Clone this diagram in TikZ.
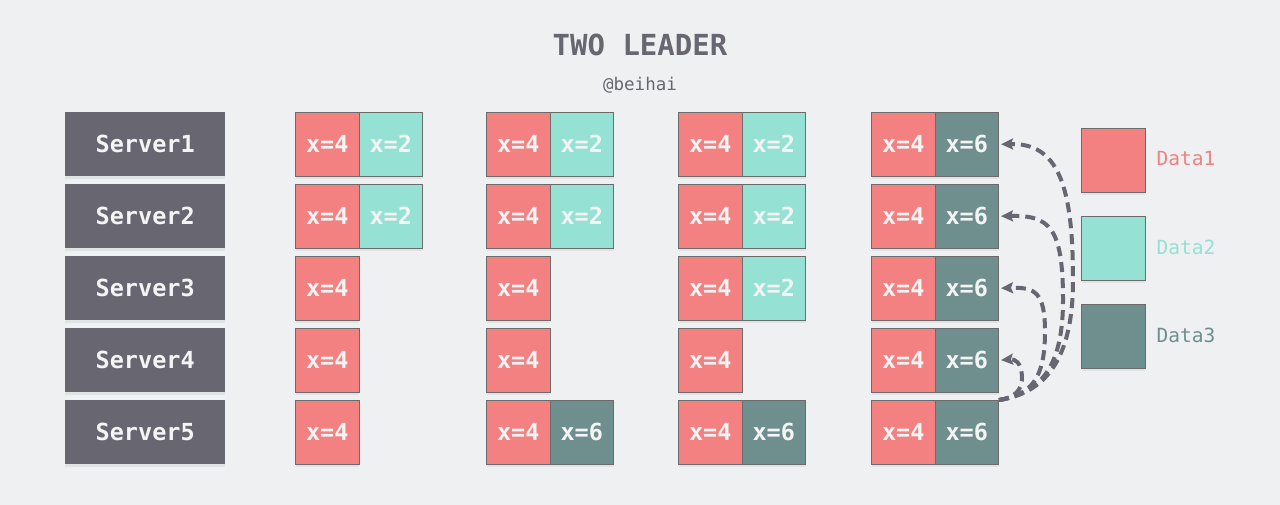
\documentclass[tikz,border=0pt]{standalone}
\usepackage{fontspec}
\setmonofont{DejaVu Sans Mono}
\usetikzlibrary{arrows.meta,shadows}
\definecolor{bg}{HTML}{EFF0F2}
\definecolor{srv}{HTML}{686671}
\definecolor{dA}{HTML}{F38181}
\definecolor{dB}{HTML}{95E1D3}
\definecolor{dC}{HTML}{6F8F8E}
\definecolor{edgec}{HTML}{6B6B6B}
\definecolor{txt}{HTML}{F4F4F4}
\pagecolor{bg}
\tikzset{
  shd/.style={drop shadow={opacity=0.12,shadow xshift=0pt,shadow yshift=-3pt}},
  server/.style={shd,fill=srv,draw=none,minimum width=160pt,minimum height=64pt,inner sep=0pt,anchor=north west,text=txt,font=\ttfamily\bfseries\fontsize{23.5}{24}\selectfont},
  cell/.style={shd,draw=edgec,line width=1pt,minimum width=63.5pt,minimum height=63.5pt,inner sep=0pt,anchor=north west,text=txt,font=\ttfamily\bfseries\fontsize{23.5}{24}\selectfont},
  ca/.style={cell,fill=dA},
  cb/.style={cell,fill=dB},
  cc/.style={cell,fill=dC},
  legbox/.style={shd,draw=edgec,line width=1pt,minimum width=63.5pt,minimum height=63.5pt,inner sep=0pt,anchor=north west},
  legtxt/.style={anchor=west,font=\ttfamily\fontsize{19.5}{20}\selectfont},
  link/.style={draw=srv,line width=4pt,dash pattern=on 10pt off 6pt,-{Stealth[length=12pt,width=11pt,inset=2pt]},shorten >=2pt}
}
\begin{document}
\begin{tikzpicture}[x=1pt,y=-1pt]
\useasboundingbox (0,0) rectangle (1280,504);
\fill[bg] (-10,-10) rectangle (1290,514);
\node[text=srv,font=\ttfamily\bfseries\fontsize{29}{30}\selectfont] (title) at (640,45) {TWO LEADER};
\node[text=srv,font=\ttfamily\fontsize{17.5}{18}\selectfont] (author) at (640,85) {@beihai};
% servers
\foreach \i in {1,...,5}{
  \node[server] (s\i) at (65,{112+72*(\i-1)}) {Server\i};
}
% column 1
\foreach \i in {1,...,5}{
  \node[ca] (a\i1) at (295,{112+72*(\i-1)}) {x=4};
}
\node[cb] (b11) at (358.5,112) {x=2};
\node[cb] (b21) at (358.5,184) {x=2};
% column 2
\foreach \i in {1,...,5}{
  \node[ca] (a\i2) at (486,{112+72*(\i-1)}) {x=4};
}
\node[cb] (b12) at (549.5,112) {x=2};
\node[cb] (b22) at (549.5,184) {x=2};
\node[cc] (b52) at (549.5,400) {x=6};
% column 3
\foreach \i in {1,...,5}{
  \node[ca] (a\i3) at (678,{112+72*(\i-1)}) {x=4};
}
\node[cb] (b13) at (741.5,112) {x=2};
\node[cb] (b23) at (741.5,184) {x=2};
\node[cb] (b33) at (741.5,256) {x=2};
\node[cc] (b53) at (741.5,400) {x=6};
% column 4
\foreach \i in {1,...,5}{
  \node[ca] (a\i4) at (871,{112+72*(\i-1)}) {x=4};
  \node[cc] (b\i4) at (934.5,{112+72*(\i-1)}) {x=6};
}
% legend
\node[legbox,fill=dA] (l1) at (1081,128) {};
\node[legbox,fill=dB] (l2) at (1081,216) {};
\node[legbox,fill=dC] (l3) at (1081,304) {};
\node[legtxt,text=dA] (t1) at (1153,159) {Data1};
\node[legtxt,text=dB] (t2) at (1153,247) {Data2};
\node[legtxt,text=dC] (t3) at (1153,335) {Data3};
% arrows
\coordinate (src) at (b54.north east);
\draw[link] (src) .. controls (1045,393) and (1073,360) .. (1073,280) .. controls (1073,185) and (1058,143) .. (b14.east);
\draw[link] (src) .. controls (1040,393) and (1063,368) .. (1063,300) .. controls (1063,228) and (1050,215) .. (b24.east);
\draw[link] (src) .. controls (1030,395) and (1045,380) .. (1045,332) .. controls (1045,292) and (1035,287) .. (b34.east);
\draw[link] (src) .. controls (1014,398) and (1023,390) .. (1022,376) .. controls (1021,362) and (1015,359) .. (b44.east);
\end{tikzpicture}
\end{document}
